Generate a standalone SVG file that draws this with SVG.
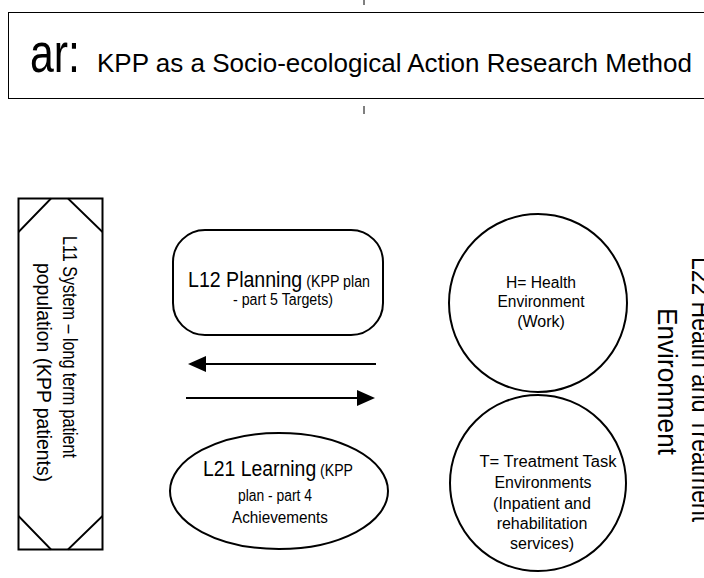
<svg xmlns="http://www.w3.org/2000/svg" width="704" height="578" viewBox="0 0 704 578">
<style>
text{font-family:"Liberation Sans",Arial,sans-serif;fill:#000}
.s{fill:#fff;stroke:#000;stroke-width:2}
.t16{font-size:16px}
.t22{font-size:22px}
.c{text-anchor:middle}
.conn{stroke:#000;stroke-width:2.2;fill:none}
</style>
<defs>
<marker id="ah" markerUnits="userSpaceOnUse" viewBox="0 0 18 16" refX="10" refY="8" markerWidth="18" markerHeight="16" orient="auto">
<path d="M0,0 L18,8 L0,16 z" fill="#000"/>
</marker>
</defs>
<rect width="704" height="578" fill="#fff"/>
<g id="title">
<line x1="364" y1="0" x2="364" y2="5" stroke="#000" stroke-width="1"/>
<line x1="364" y1="106" x2="364" y2="114" stroke="#000" stroke-width="1"/>
<rect x="8.5" y="12.5" width="710" height="86" fill="none" stroke="#000" stroke-width="1"/>
<text x="30" y="72" font-size="56" textLength="50" lengthAdjust="spacingAndGlyphs">ar:</text>
<text x="97" y="72" font-size="26" textLength="595" lengthAdjust="spacingAndGlyphs">KPP as a Socio-ecological Action Research Method</text>
</g>
<g id="L11">
<rect x="18.5" y="198.5" width="84" height="351" fill="#fff" stroke="#000" stroke-width="2"/>
<path d="M18.5,232 L51,198.5 M68,198.5 L102.5,232 M18.5,516 L51,549.5 M68,549.5 L102.5,516" stroke="#000" stroke-width="1.8" fill="none"/>
<text transform="translate(63,236) rotate(90)" font-size="20" textLength="222" lengthAdjust="spacingAndGlyphs">L11 System – long term patient</text>
<text transform="translate(37,263) rotate(90)" font-size="20" textLength="219" lengthAdjust="spacingAndGlyphs">population (KPP patients)</text>
</g>
<g id="L12">
<rect class="s" x="173" y="230" width="210" height="105" rx="32"/>
<text x="188" y="287" textLength="182" lengthAdjust="spacingAndGlyphs"><tspan class="t22">L12 Planning</tspan><tspan class="t16"> (KPP plan</tspan></text>
<text x="233" y="305" class="t16" textLength="100" lengthAdjust="spacingAndGlyphs">- part 5 Targets)</text>
</g>
<g id="connectors">
<line class="conn" x1="376" y1="364" x2="196" y2="364" marker-end="url(#ah)"/>
<line class="conn" x1="186" y1="398" x2="367" y2="398" marker-end="url(#ah)"/>
</g>
<g id="L21">
<ellipse class="s" cx="279" cy="491" rx="109" ry="58"/>
<text x="203" y="476" textLength="150" lengthAdjust="spacingAndGlyphs"><tspan class="t22">L21 Learning</tspan><tspan class="t16"> (KPP</tspan></text>
<text x="275" y="501" class="t16 c" textLength="74" lengthAdjust="spacingAndGlyphs">plan - part 4</text>
<text x="280" y="523" class="t16 c" textLength="96" lengthAdjust="spacingAndGlyphs">Achievements</text>
</g>
<g id="H">
<circle class="s" cx="538" cy="303" r="89"/>
<text x="541" y="288" class="t16 c" textLength="70" lengthAdjust="spacingAndGlyphs">H= Health</text>
<text x="541" y="307" class="t16 c" textLength="87" lengthAdjust="spacingAndGlyphs">Environment</text>
<text x="541" y="327" class="t16 c">(Work)</text>
</g>
<g id="T">
<circle class="s" cx="538" cy="483" r="88"/>
<text x="548" y="467" class="t16 c" textLength="137" lengthAdjust="spacingAndGlyphs">T= Treatment Task</text>
<text x="543" y="488" class="t16 c" textLength="97" lengthAdjust="spacingAndGlyphs">Environments</text>
<text x="542" y="509" class="t16 c">(Inpatient and</text>
<text x="542" y="529" class="t16 c">rehabilitation</text>
<text x="542" y="549" class="t16 c">services)</text>
</g>
<g id="L22">
<text transform="translate(692,257) rotate(90)" font-size="27" textLength="265" lengthAdjust="spacingAndGlyphs">L22 Health and Treatment</text>
<text transform="translate(658,308) rotate(90)" font-size="27" textLength="147" lengthAdjust="spacingAndGlyphs">Environment</text>
</g>
</svg>
